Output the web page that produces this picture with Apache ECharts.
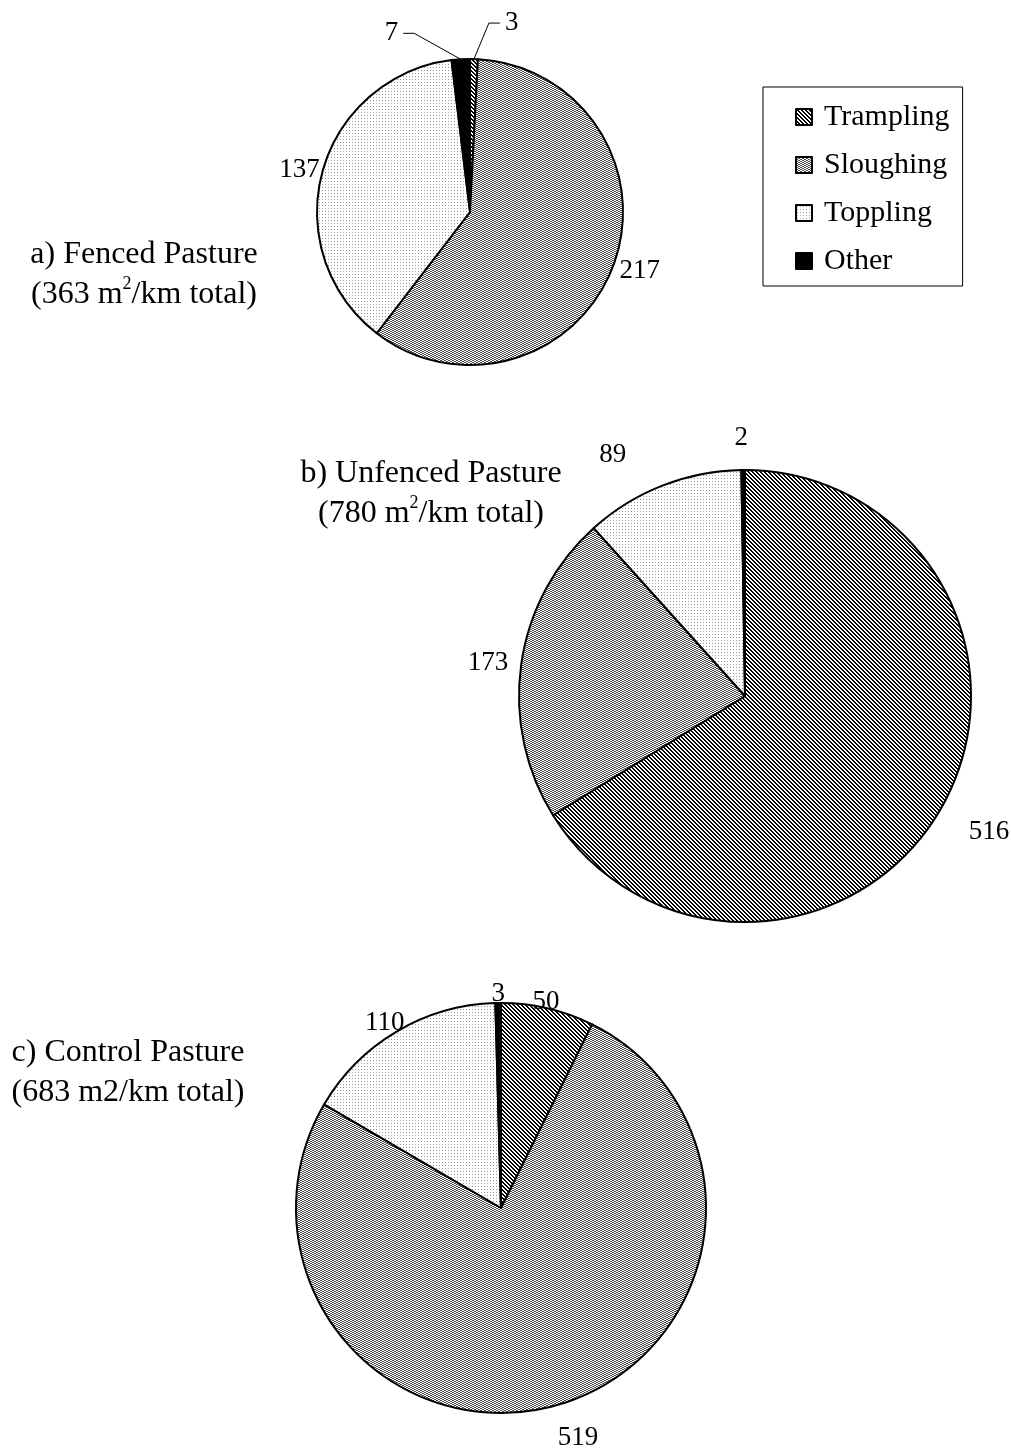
<!DOCTYPE html>
<html>
<head>
<meta charset="utf-8">
<script src="https://cdn.jsdelivr.net/npm/echarts@6/dist/echarts.min.js"></script>
<style>
  html, body { margin: 0; padding: 0; background: #ffffff; }
  #chart { width: 1011px; height: 1452px; }
</style>
</head>
<body>
<div id="chart"></div>
<script>
// Bank erosion area (m2/km) by process, for three pastures
const categories = ['Trampling', 'Sloughing', 'Toppling', 'Other'];
const fencedValues = [3, 217, 137, 7];
const unfencedValues = [516, 173, 89, 2];
const controlValues = [50, 519, 110, 3];

const fencedTitle = ['a) Fenced Pasture', '(363 m{sup|2}/km total)'];
const unfencedTitle = ['b) Unfenced Pasture', '(780 m{sup|2}/km total)'];
const controlTitle = ['c) Control Pasture', '(683 m2/km total)'];

const FONT = '"Liberation Serif", "Times New Roman", serif';

// Fill patterns drawn pixel by pixel on small tiles
function makePattern(w, h, paint) {
  const c = document.createElement('canvas');
  c.width = w; c.height = h;
  const ctx = c.getContext('2d');
  ctx.fillStyle = '#ffffff';
  ctx.fillRect(0, 0, w, h);
  paint(ctx);
  return { image: c, repeat: 'repeat' };
}
const fills = [
  // Trampling: dense diagonal hatch
  makePattern(4, 4, ctx => {
    ctx.fillStyle = '#000000';
    for (let y = 0; y < 4; y++) for (let x = 0; x < 4; x++) {
      if (((x - y) % 4 + 4) % 4 < 2) ctx.fillRect(x, y, 1, 1);
    }
  }),
  // Sloughing: fine grey checker
  makePattern(4, 2, ctx => {
    ctx.fillStyle = '#4a4a4a';
    ctx.fillRect(0, 0, 2, 1);
    ctx.fillRect(2, 1, 2, 1);
  }),
  // Toppling: sparse grey dots
  makePattern(3, 3, ctx => {
    ctx.fillStyle = '#9a9a9a';
    ctx.fillRect(1, 1, 1, 1);
  }),
  // Other: solid black
  '#000000'
];

// Label placement per slice: [radial length, horizontal length, show leader]
const fencedLabelLines = [[36, 25, true], [18, -16, false], [7, -9, false], [26, 56, true]];
const unfencedLabelLines = [[54, -26, false], [8, 0, false], [33, 19, false], [32, -10, false]];
const controlLabelLines = [[7, -22, false], [35, -17, false], [10, -18, false], [9, -12, false]];

function buildData(values, lines) {
  return values.map((v, i) => ({
    name: categories[i],
    value: v,
    itemStyle: { color: fills[i] },
    labelLine: {
      show: lines[i][2],
      length: lines[i][0],
      length2: lines[i][1],
      lineStyle: { color: '#000000', width: 1 }
    }
  }));
}

// Leader lines: slant the first leg and keep a short horizontal tail
function slantLeader(params) {
  const p = params.labelLinePoints;
  if (!p || p.length < 3) return {};
  const dir = p[2][0] >= p[1][0] ? 1 : -1;
  return { labelLinePoints: [p[0], [p[2][0] - dir * 11, p[2][1]], p[2]] };
}

function pieSeries(values, lines, center, radius, withLeaders) {
  const s = {
    type: 'pie',
    center: center,
    radius: radius,
    startAngle: 90,
    clockwise: true,
    avoidLabelOverlap: false,
    silent: true,
    itemStyle: { borderColor: '#000000', borderWidth: 2 },
    label: {
      show: true,
      position: 'outside',
      formatter: '{c}',
      color: '#000000',
      fontFamily: FONT,
      fontSize: 27
    },
    labelLine: { show: false },
    emphasis: { disabled: true },
    data: buildData(values, lines)
  };
  if (withLeaders) s.labelLayout = slantLeader;
  return s;
}

function titleText(lines, x, y) {
  return {
    type: 'text',
    x: x,
    y: y,
    style: {
      text: lines.join('\n'),
      align: 'center',
      verticalAlign: 'middle',
      fill: '#000000',
      font: '32px ' + FONT,
      lineHeight: 40,
      rich: {
        sup: { fontSize: 18, fontFamily: FONT, verticalAlign: 'top', lineHeight: 40, padding: [0, 0, 14, 0] }
      }
    }
  };
}

const chart = echarts.init(document.getElementById('chart'), null, { renderer: 'canvas' });
chart.setOption({
  animation: false,
  backgroundColor: '#ffffff',
  legend: {
    data: categories,
    orient: 'vertical',
    left: 763,
    top: 87,
    padding: [15, 13, 10, 32],
    itemWidth: 16,
    itemHeight: 16,
    itemGap: 18,
    icon: 'rect',
    borderColor: '#000000',
    borderWidth: 1,
    selectedMode: false,
    itemStyle: { borderColor: '#000000', borderWidth: 2 },
    textStyle: { fontFamily: FONT, fontSize: 30, color: '#000000', padding: [0, 0, 0, 7] }
  },
  graphic: [
    titleText(fencedTitle, 144, 275),
    titleText(unfencedTitle, 431, 494),
    titleText(controlTitle, 128, 1073)
  ],
  series: [
    pieSeries(fencedValues, fencedLabelLines, [470, 212], 153, true),
    pieSeries(unfencedValues, unfencedLabelLines, [745, 696], 226, false),
    pieSeries(controlValues, controlLabelLines, [501, 1208], 205, false)
  ]
});
</script>
</body>
</html>
